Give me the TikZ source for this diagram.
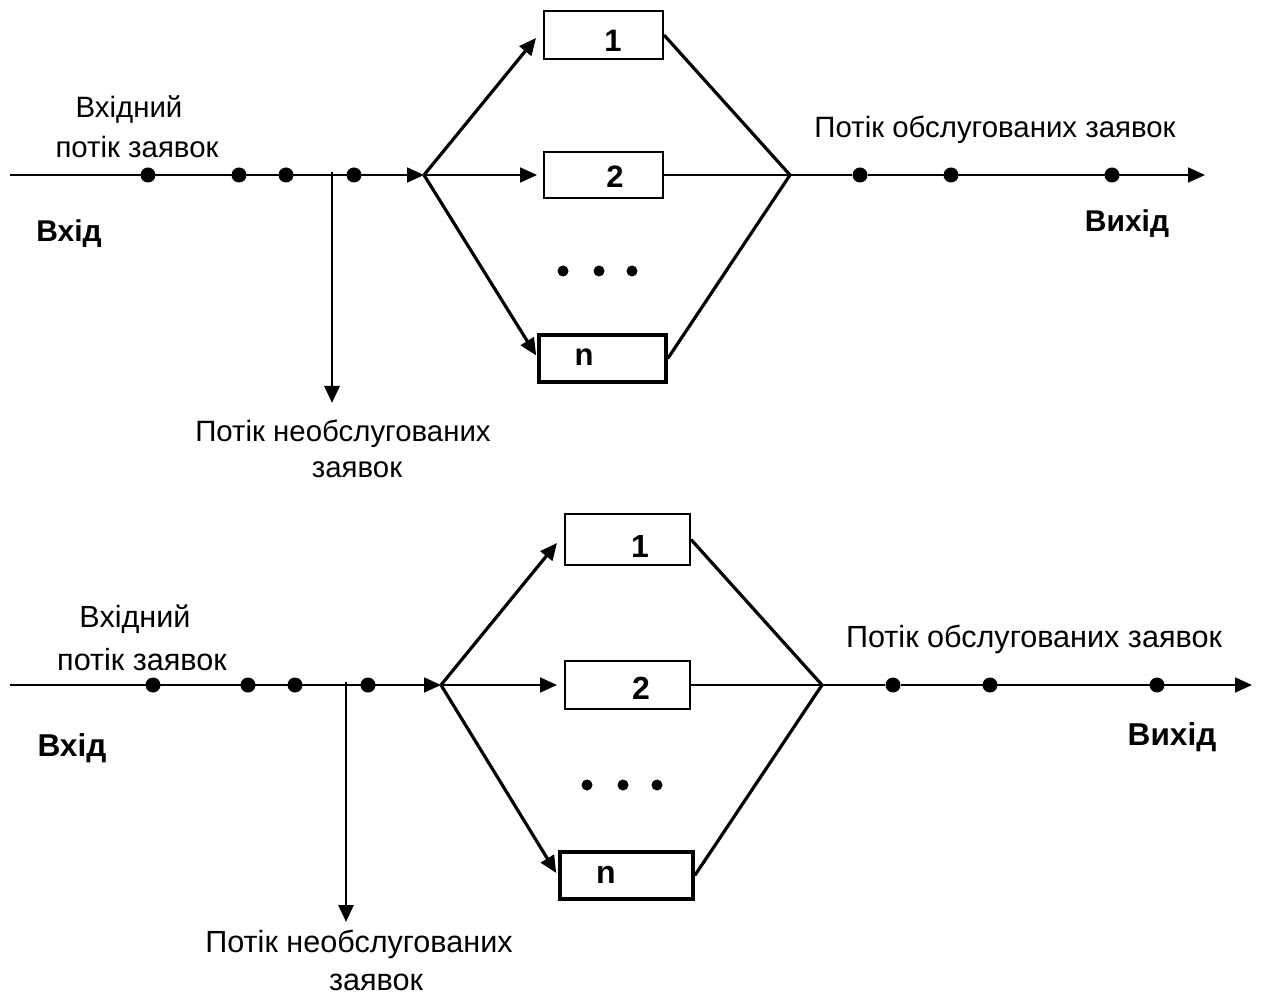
\documentclass[tikz,border=0pt]{standalone}
\usepackage{fontspec}
\setmainfont{Liberation Sans}
\usetikzlibrary{arrows.meta,calc}

\tikzset{
  tip/.style={-{Triangle[length=8.5pt,width=7.5pt]}},
  thinline/.style={line width=0.9pt},
  branch/.style={line width=1.6pt},
  dot/.style={circle, fill=black, inner sep=0pt, minimum size=7.5pt},
  sdot/.style={circle, fill=black, inner sep=0pt, minimum size=5.5pt},
  srv/.style={draw, line width=1pt, inner sep=0pt},
  srvn/.style={draw, line width=1.8pt, inner sep=0pt},
  txtu/.style={inner sep=0pt, anchor=base, font=\fontsize{14.7}{17}\selectfont},
  txtl/.style={inner sep=0pt, anchor=base, font=\fontsize{15.3}{18}\selectfont},
  boldu/.style={inner sep=0pt, anchor=base, font=\fontsize{15}{18}\selectfont\bfseries},
  boldl/.style={inner sep=0pt, anchor=base, font=\fontsize{15.8}{19}\selectfont\bfseries},
  numu/.style={inner sep=0pt, anchor=base, font=\fontsize{15.5}{18}\selectfont\bfseries},
  numl/.style={inner sep=0pt, anchor=base, font=\fontsize{16}{19}\selectfont\bfseries},
}

\begin{document}
\begin{tikzpicture}[x=0.5pt,y=-0.5pt]
\useasboundingbox (0,0) rectangle (1263,1005);

% ---------------- upper system ----------------
\coordinate (uin) at (10,175);
\coordinate (us) at (424,175);
\coordinate (uv0) at (332,172);
\coordinate (uv1) at (332,403);
\coordinate (uj) at (790,175);
\coordinate (uout) at (1205,175);

\node[srv, minimum width=59.5pt, minimum height=24pt] (ub1) at (603.5,35) {};
\node[srv, minimum width=59.5pt, minimum height=23pt] (ub2) at (603.5,175) {};
\node[srvn, minimum width=63.5pt, minimum height=23.5pt] (ubn) at (602.5,358.5) {};
\node[numu] (ul1) at (613,52) {1};
\node[numu] (ul2) at (615,188) {2};
\node[numu] (uln) at (584,365) {n};

\node[sdot] (ue1) at (563,271) {};
\node[sdot] (ue2) at (599,271) {};
\node[sdot] (ue3) at (632,271) {};

% incoming stream and rejected stream
\draw[thinline, tip] (uin) -- (us);
\draw[line width=1.4pt, tip] (uv0) -- (uv1);
\node[dot] (ud1) at (148,175) {};
\node[dot] (ud2) at (239,175) {};
\node[dot] (ud3) at (286,175) {};
\node[dot] (ud4) at (354,175) {};

% split to servers
\draw[branch, tip] (us) -- ($(ub1.west)+(-7,3)$);
\draw[thinline, tip] (us) -- ($(ub2.west)+(-6,0)$);
\draw[branch, tip] (us) -- ($(ubn.west)+(-1,-3)$);

% join of served stream
\draw[branch] (ub1.east) -- (uj);
\draw[line width=1.4pt] (ub2.east) -- (uj);
\draw[branch] (ubn.east) -- (uj);
\node[dot] (uo1) at (860,175) {};
\node[dot] (uo2) at (951,175) {};
\node[dot] (uo3) at (1112,175) {};
\draw[line width=1.4pt] (uj) -- (uo1);
\draw[thinline, tip] (uo1) -- (uout);

\node[txtu] (uinl1) at (129,118) {Вхідний};
\node[txtu] (uinl2) at (137,158) {потік заявок};
\node[boldu] (uinb) at (69,242) {Вхід};
\node[txtu] (uoutl) at (995,138) {Потік обслугованих заявок};
\node[boldu] (uoutb) at (1127,232) {Вихід};
\node[txtu] (urej1) at (343,442) {Потік необслугованих};
\node[txtu] (urej2) at (357,477) {заявок};

% ---------------- lower system ----------------
\coordinate (lin) at (10,685);
\coordinate (ls) at (441,685);
\coordinate (lv0) at (346,682);
\coordinate (lv1) at (346,922);
\coordinate (lj) at (822,685);
\coordinate (lout) at (1252,685);

\node[srv, minimum width=62.5pt, minimum height=25.5pt] (lb1) at (627.5,539.5) {};
\node[srv, minimum width=62.5pt, minimum height=24pt] (lb2) at (627.5,685) {};
\node[srvn, minimum width=66.5pt, minimum height=23.5pt] (lbn) at (626.5,875.5) {};
\node[numl] (ll1) at (640,557) {1};
\node[numl] (ll2) at (641,699) {2};
\node[numl] (lln) at (606,883) {n};

\node[sdot] (le1) at (587,785) {};
\node[sdot] (le2) at (623,785) {};
\node[sdot] (le3) at (657,785) {};

\draw[thinline, tip] (lin) -- (ls);
\draw[line width=1.4pt, tip] (lv0) -- (lv1);
\node[dot] (ld1) at (153,685) {};
\node[dot] (ld2) at (248,685) {};
\node[dot] (ld3) at (295,685) {};
\node[dot] (ld4) at (368,685) {};

\draw[branch, tip] (ls) -- ($(lb1.west)+(-7,3.5)$);
\draw[thinline, tip] (ls) -- ($(lb2.west)+(-7,0)$);
\draw[branch, tip] (ls) -- ($(lbn.west)+(-2,-2.5)$);

\draw[branch] (lb1.east) -- (lj);
\draw[line width=1.4pt] (lb2.east) -- (lj);
\draw[branch] (lbn.east) -- (lj);
\node[dot] (lo1) at (893,685) {};
\node[dot] (lo2) at (990,685) {};
\node[dot] (lo3) at (1157,685) {};
\draw[line width=1.4pt] (lj) -- (lo1);
\draw[thinline, tip] (lo1) -- (lout);

\node[txtl] (linl1) at (135,627) {Вхідний};
\node[txtl] (linl2) at (142,670) {потік заявок};
\node[boldl] (linb) at (72,756) {Вхід};
\node[txtl] (loutl) at (1034,647) {Потік обслугованих заявок};
\node[boldl] (loutb) at (1172,745) {Вихід};
\node[txtl] (lrej1) at (359,952) {Потік необслугованих};
\node[txtl] (lrej2) at (376,990) {заявок};
\end{tikzpicture}
\end{document}
